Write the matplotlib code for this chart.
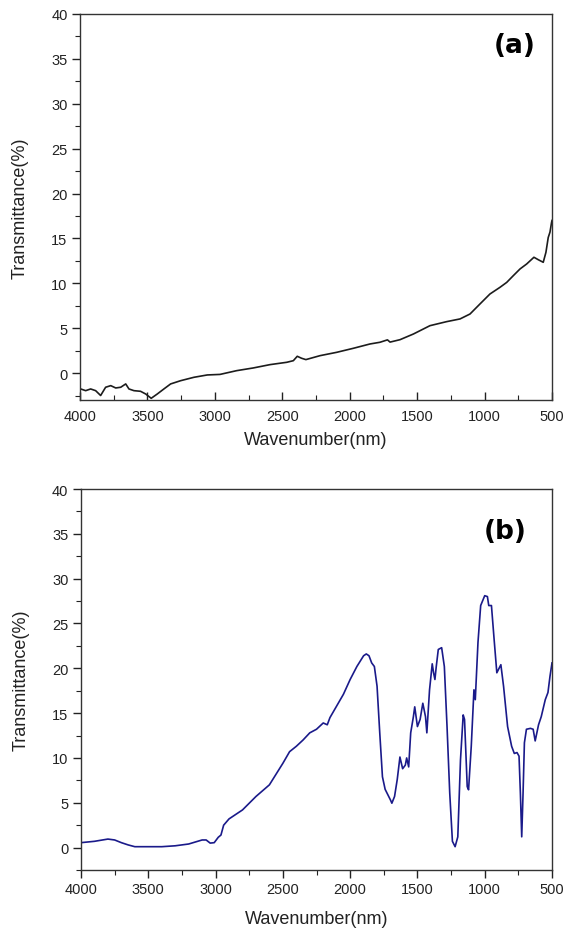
import matplotlib
matplotlib.use("Agg")
import matplotlib.pyplot as plt
from matplotlib.ticker import MultipleLocator

plt.rcParams['font.family'] = ['Liberation Sans', 'DejaVu Sans']

# Panel (a) spectrum
wn_a = [4000, 3995, 3958, 3921, 3884, 3847, 3810, 3772, 3735, 3698, 3661, 3637,
        3600, 3551, 3513, 3472, 3427, 3378, 3328, 3254, 3155, 3056, 2962, 2838,
        2715, 2591, 2467, 2418, 2389, 2357, 2325, 2220, 2097, 1973, 1850, 1776,
        1720, 1701, 1627, 1528, 1405, 1281, 1182, 1108, 1034, 960, 886, 836,
        787, 737, 688, 634, 602, 565, 545, 528, 515, 503, 500]
tr_a = [-1.8, -1.77, -1.96, -1.77, -1.96, -2.5, -1.58, -1.4, -1.66, -1.58, -1.21, -1.77,
        -1.96, -2.03, -2.33, -2.81, -2.33, -1.77, -1.21, -0.85, -0.47, -0.21, -0.15, 0.27,
        0.57, 0.94, 1.2, 1.38, 1.87, 1.65, 1.5, 1.94, 2.31, 2.76, 3.24, 3.43,
        3.7, 3.45, 3.72, 4.35, 5.28, 5.73, 6.03, 6.58, 7.7, 8.81, 9.55, 10.1,
        10.85, 11.6, 12.15, 12.9, 12.63, 12.34, 13.45, 15.1, 15.7, 16.8, 17.0]

# Panel (b) spectrum
wn_b = [4000, 3900, 3800, 3750, 3700, 3650, 3600, 3500, 3400, 3300, 3200, 3100,
        3070, 3040, 3010, 2980, 2960, 2940, 2900, 2800, 2700, 2600, 2500, 2450,
        2400, 2350, 2300, 2250, 2200, 2170, 2150, 2100, 2050, 2000, 1950, 1900,
        1880, 1860, 1840, 1820, 1800, 1780, 1760, 1740, 1720, 1700, 1690, 1670,
        1650, 1630, 1610, 1590, 1580, 1565, 1550, 1530, 1520, 1500, 1480, 1460,
        1440, 1430, 1410, 1390, 1380, 1370, 1360, 1345, 1320, 1300, 1280, 1260,
        1240, 1220, 1200, 1180, 1160, 1150, 1130, 1120, 1100, 1080, 1070, 1050,
        1030, 1000, 980, 970, 950, 930, 910, 880, 860, 830, 800, 780,
        760, 745, 735, 725, 715, 705, 690, 660, 640, 625, 600, 580,
        550, 530, 515, 500]
tr_b = [0.55, 0.7, 0.95, 0.85, 0.55, 0.3, 0.1, 0.1, 0.1, 0.2, 0.4, 0.85,
        0.85, 0.5, 0.55, 1.15, 1.4, 2.5, 3.2, 4.2, 5.7, 7.0, 9.4, 10.7,
        11.3, 12.0, 12.8, 13.2, 13.9, 13.7, 14.5, 15.8, 17.1, 18.75, 20.2, 21.4,
        21.6, 21.4, 20.6, 20.2, 18.0, 12.8, 7.9, 6.5, 5.9, 5.3, 4.95, 5.7,
        7.6, 10.1, 8.8, 9.2, 10.0, 9.0, 12.8, 14.6, 15.7, 13.5, 14.3, 16.1,
        14.6, 12.8, 17.6, 20.5, 19.5, 18.75, 20.2, 22.1, 22.3, 20.2, 13.5, 6.1,
        0.7, 0.1, 1.2, 9.8, 14.8, 14.3, 6.8, 6.45, 11.3, 17.6, 16.5, 22.9,
        27.0, 28.1, 28.0, 27.0, 27.0, 23.2, 19.5, 20.4, 18.0, 13.5, 11.3, 10.5,
        10.6, 10.2, 6.1, 1.2, 6.1, 11.7, 13.2, 13.3, 13.2, 11.9, 13.7, 14.6,
        16.5, 17.3, 19.1, 20.6]

panels = [
    dict(rect=[80/566, 1-401/929, 472/566, 386/929], x=wn_a, y=tr_a, color='#1c1c1c',
         ylim=(-3, 40), tag='(a)', tagpos=(0.92, 0.92), xdir='in', xpad=6.5, xlp=6),
    dict(rect=[81/566, 1-871/929, 471/566, 381/929], x=wn_b, y=tr_b, color='#1a1a8a',
         ylim=(-2.5, 40), tag='(b)', tagpos=(0.90, 0.89), xdir='out', xpad=3.5, xlp=10),
]

fig = plt.figure(figsize=(5.66, 9.29), dpi=100)
for p in panels:
    ax = fig.add_axes(p['rect'])
    ax.plot(p['x'], p['y'], color=p['color'], lw=1.2)
    ax.set_xlim(4000, 500)
    ax.set_ylim(*p['ylim'])
    ax.xaxis.set_major_locator(MultipleLocator(500))
    ax.xaxis.set_minor_locator(MultipleLocator(250))
    ax.yaxis.set_major_locator(MultipleLocator(5))
    ax.yaxis.set_minor_locator(MultipleLocator(2.5))
    ax.tick_params(which='both', top=False, right=False,
                   labelsize=10.5, colors='#222222')
    ax.tick_params(axis='y', which='both', direction='out')
    ax.tick_params(axis='x', which='both', direction=p['xdir'], pad=p['xpad'])
    ax.tick_params(which='major', length=5.5, width=1)
    ax.tick_params(which='minor', length=3.5, width=0.8)
    for s in ax.spines.values():
        s.set_color('#333333')
        s.set_linewidth(1.0)
    ax.set_ylabel('Transmittance(%)', fontsize=13, color='#222222', labelpad=16)
    ax.set_xlabel('Wavenumber(nm)', fontsize=13, color='#222222', labelpad=p['xlp'])
    ax.text(p['tagpos'][0], p['tagpos'][1], p['tag'], transform=ax.transAxes,
            fontsize=19, fontweight='bold', ha='center', va='center',
            family='DejaVu Sans')

fig.savefig('out.png', dpi=100)
